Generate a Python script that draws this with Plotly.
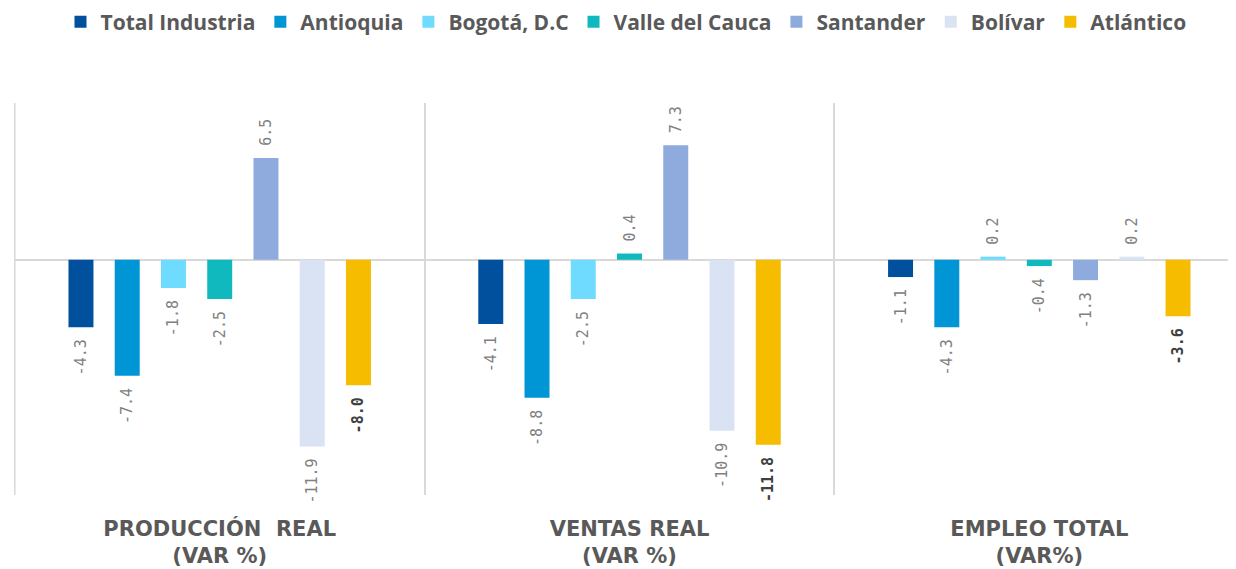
import plotly.graph_objects as go

categories = ["PRODUCCIÓN  REAL<br>(VAR %)", "VENTAS REAL<br>(VAR %)", "EMPLEO TOTAL<br>(VAR%)"]
series_names = ["Total Industria", "Antioquia", "Bogotá, D.C", "Valle del Cauca", "Santander", "Bolívar", "Atlántico"]
total_industria = [-4.3, -4.1, -1.1]
antioquia = [-7.4, -8.8, -4.3]
bogota = [-1.8, -2.5, 0.2]
valle = [-2.5, 0.4, -0.4]
santander = [6.5, 7.3, -1.3]
bolivar = [-11.9, -10.9, 0.2]
atlantico = [-8.0, -11.8, -3.6]
series_values = [total_industria, antioquia, bogota, valle, santander, bolivar, atlantico]
colors = ["#00509E", "#0096D6", "#6FDBFF", "#10B9BE", "#8FAADC", "#DAE3F3", "#F5BC00"]


def label(v):
    # non-breaking space pads the label away from the bar end
    return f"\u00a0{v:.1f}" if v >= 0 else f"{v:.1f}\u00a0"


fig = go.Figure()
for name, vals, col in zip(series_names, series_values, colors):
    bold = name == "Atlántico"
    fig.add_trace(go.Bar(
        name=name, x=categories, y=vals,
        marker=dict(color=col, line=dict(width=0)),
        text=[label(v) for v in vals],
        textposition="outside", textangle=-90, constraintext="none",
        cliponaxis=False,
        textfont=dict(family="DejaVu Sans Mono", size=15,
                      color="#404040" if bold else "#808080",
                      weight="bold" if bold else "normal"),
        hoverinfo="skip",
    ))

fig.update_layout(
    width=1236, height=569,
    margin=dict(l=6, r=8, t=95, b=82),
    paper_bgcolor="white", plot_bgcolor="white",
    barmode="group", bargap=0.21, bargroupgap=0.46,
    showlegend=True,
    legend=dict(orientation="h", x=0.5, xanchor="center", xref="container",
                y=1 - 14 / 569, yanchor="middle", yref="container",
                font=dict(family="Open Sans", size=21, color="#595959", weight="bold"),
                itemclick=False, tracegroupgap=0),
    xaxis=dict(range=[-0.502, 2.48], tickson="boundaries", showgrid=True,
               gridcolor="#D9D9D9", gridwidth=1.5, ticks="", showline=False,
               ticklabelstandoff=19,
               tickfont=dict(family="DejaVu Sans", size=21, color="#595959", weight="bold")),
    yaxis=dict(range=[-15, 10], showgrid=False, showticklabels=False, ticks="",
               zeroline=True, zerolinecolor="#D9D9D9", zerolinewidth=1.5),
    shapes=[dict(type="line", xref="x", yref="paper", x0=-0.5, x1=-0.5, y0=0, y1=1,
                 line=dict(color="#D9D9D9", width=1.5), layer="below")],
)

fig.write_html("out.html")
